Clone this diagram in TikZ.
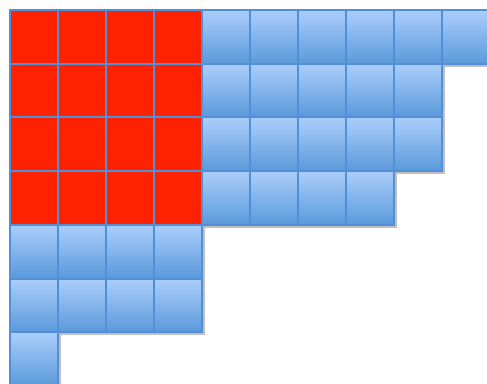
\documentclass[tikz,border=0pt]{standalone}
\usetikzlibrary{shadows}
\definecolor{gridline}{HTML}{528FD6}
\definecolor{redcell}{HTML}{FF2200}
\definecolor{bluetop}{HTML}{ABCEFB}
\definecolor{bluebot}{HTML}{5A99DB}
\tikzset{
  cellbase/.style={rectangle, inner sep=0pt, outer sep=0pt,
    minimum width=48pt, minimum height=53.7pt,
    draw=gridline, line width=2pt,
    drop shadow={shadow xshift=2.5pt, shadow yshift=-3pt, opacity=0.25, fill=black}},
  redbox/.style={cellbase, fill=redcell},
  bluebox/.style={cellbase, top color=bluetop, bottom color=bluebot},
}
\begin{document}
\begin{tikzpicture}[x=1pt,y=-1pt]
\useasboundingbox (0,0) rectangle (487,383);
\foreach \r/\n in {1/10,2/9,3/9,4/8,5/4,6/4,7/1} {
  \foreach \c in {1,...,\n} {
    \pgfmathsetmacro{\xx}{10+48*(\c-0.5)}
    \pgfmathsetmacro{\yy}{10+53.7*(\r-0.5)}
    \pgfmathtruncatemacro{\isred}{and(\r<5,\c<5)}
    \ifnum\isred=1
      \node[redbox] (c-\r-\c) at (\xx,\yy) {};
    \else
      \node[bluebox] (c-\r-\c) at (\xx,\yy) {};
    \fi
  }
}
\end{tikzpicture}
\end{document}
